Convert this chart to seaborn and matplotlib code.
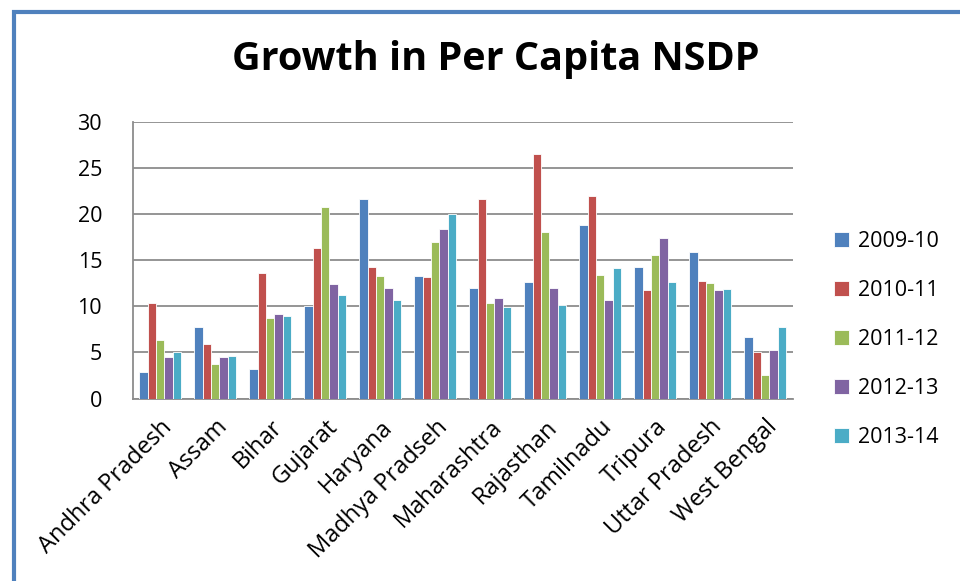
import matplotlib
matplotlib.use("Agg")
import matplotlib.pyplot as plt
import seaborn as sns
import pandas as pd
from matplotlib.patches import Rectangle

states = ["Andhra Pradesh", "Assam", "Bihar", "Gujarat", "Haryana", "Madhya Pradseh",
          "Maharashtra", "Rajasthan", "Tamilnadu", "Tripura", "Uttar Pradesh", "West Bengal"]
years = ["2009-10", "2010-11", "2011-12", "2012-13", "2013-14"]
y2009_10 = [2.85, 7.75, 3.2, 10.05, 21.6, 13.3, 12.0, 12.6, 18.8, 14.3, 15.85, 6.7]
y2010_11 = [10.3, 5.9, 13.6, 16.35, 14.3, 13.2, 21.6, 26.55, 21.9, 11.8, 12.75, 5.0]
y2011_12 = [6.3, 3.7, 8.7, 20.8, 13.25, 16.95, 10.4, 18.05, 13.4, 15.6, 12.55, 2.6]
y2012_13 = [4.5, 4.5, 9.2, 12.45, 11.95, 18.4, 10.85, 11.95, 10.7, 17.4, 11.75, 5.3]
y2013_14 = [5.0, 4.6, 8.9, 11.2, 10.7, 20.0, 9.95, 10.1, 14.15, 12.65, 11.9, 7.75]
y_ticks = [0, 5, 10, 15, 20, 25, 30]

series = [y2009_10, y2010_11, y2011_12, y2012_13, y2013_14]
rows = []
for yr, vals in zip(years, series):
    for st, v in zip(states, vals):
        rows.append({"State": st, "Year": yr, "Growth": v})
df = pd.DataFrame(rows)

colors = ["#4F81BD", "#C0504D", "#9BBB59", "#8064A2", "#4BACC6"]

sns.set_theme(style="white")
plt.rcParams["font.family"] = ["Open Sans", "DejaVu Sans"]
plt.rcParams["text.color"] = "black"
plt.rcParams["xtick.color"] = "black"
plt.rcParams["ytick.color"] = "black"

fig = plt.figure(figsize=(9.6, 5.81), dpi=100)
ax = fig.add_axes([0.1382, 0.3141, 0.6875, 0.4764])

sns.barplot(data=df, x="State", y="Growth", hue="Year", order=states, hue_order=years,
            palette=colors, saturation=1, width=0.76, edgecolor="white", linewidth=0.6,
            errorbar=None, ax=ax, legend=True, zorder=3)

ax.set_ylim(0, 30)
ax.set_yticks(y_ticks)
ax.set_yticklabels([str(t) for t in y_ticks], fontsize=15.5)
ax.set_xlim(-0.5, len(states) - 0.5)
ax.set_xlabel("")
ax.set_ylabel("")
ax.set_xticks(range(len(states)))
ax.set_xticklabels(states, rotation=45, ha="right", rotation_mode="anchor", fontsize=17)
ax.tick_params(axis="x", length=0, pad=12)
ax.tick_params(axis="y", length=0, pad=22)
ax.grid(axis="y", color="#8c8c8c", linewidth=1.3, zorder=0)
ax.set_axisbelow(True)
for s in ["top", "right"]:
    ax.spines[s].set_visible(False)
for s in ["left", "bottom"]:
    ax.spines[s].set_color("#8c8c8c")
    ax.spines[s].set_linewidth(1.3)

handles, labels = ax.get_legend_handles_labels()
ax.get_legend().remove()
fig.legend(handles, labels, loc="center left", bbox_to_anchor=(0.849, 0.416),
           frameon=False, fontsize=15.5, handlelength=0.7, handleheight=0.7,
           handletextpad=0.4, labelspacing=1.3)

fig.text(0.516, 0.897, "Growth in Per Capita NSDP", ha="center", va="center",
         fontsize=28.5, fontweight="bold", color="black")

fig.patches.append(Rectangle((0.0146, -0.2), 1.2, 1.1793, transform=fig.transFigure,
                             fill=False, edgecolor="#4F81BD", linewidth=3))

fig.savefig("out.png", dpi=100)
